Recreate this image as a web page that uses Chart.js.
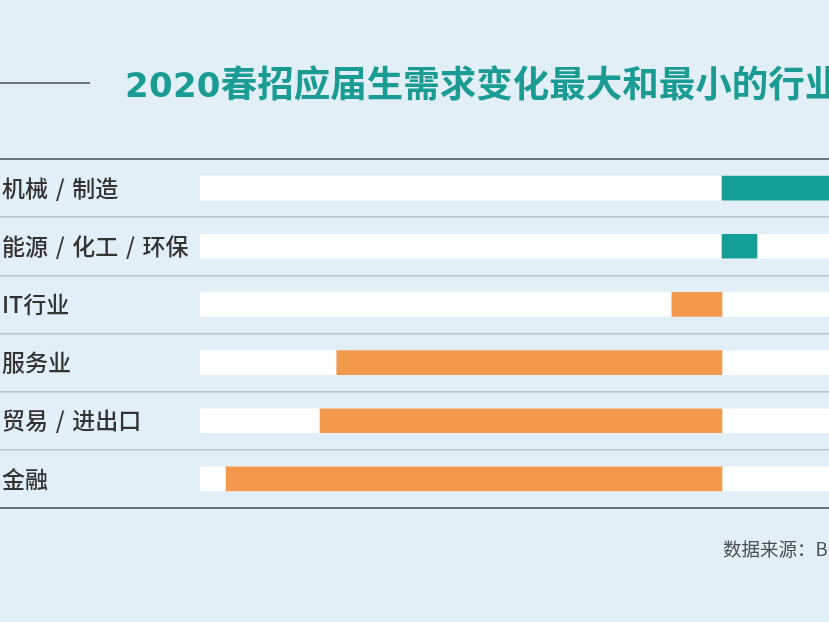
<!DOCTYPE html>
<html>
<head>
<meta charset="utf-8">
<script src="https://cdn.jsdelivr.net/npm/chart.js@4/dist/chart.umd.min.js"></script>
<style>
    html, body {
        margin: 0;
        padding: 0;
        width: 829px;
        height: 622px;
        overflow: hidden;
        background: #e3eff7;
        font-family: "Noto Sans CJK SC", "Noto Sans", sans-serif;
    }
    #wrap {
        position: relative;
        width: 829px;
        height: 622px;
        overflow: hidden;
    }
    #chart {
        position: absolute;
        left: 0;
        top: 0;
    }
    .title-line {
        position: absolute;
        left: 0;
        top: 82px;
        width: 90px;
        height: 2px;
        background: #6d757b;
    }
    .title {
        position: absolute;
        left: 125px;
        top: 57px;
        font-size: 36.5px;
        font-weight: 700;
        color: #1a9c95;
        white-space: nowrap;
        line-height: 50px;
    }
    .title .year {
        font-family: "DejaVu Sans", sans-serif;
        font-size: 34px;
        font-weight: 700;
        letter-spacing: 0.3px;
    }
    .source {
        position: absolute;
        left: 723px;
        top: 535px;
        font-size: 18.5px;
        color: #4a4f53;
        white-space: nowrap;
        line-height: 26px;
    }
</style>
</head>
<body>
<div id="wrap">
    <canvas id="chart" width="1244" height="622"></canvas>
    <div class="title-line"></div>
    <div class="title"><span class="year">2020</span>春招应届生需求变化最大和最小的行业</div>
    <div class="source">数据来源：BOSS直聘研究院</div>
</div>
<script>
// industries, top to bottom
const categories = ["机械 / 制造", "能源 / 化工 / 环保", "IT行业", "服务业", "贸易 / 进出口", "金融"];
// change in demand (scale -100..100)
const changeValues = [40, 6.7, -9.6, -73.8, -77.0, -95.0];
// white background track for each row
const trackRange = [-100, 100];

const TEAL = "#139f98";
const ORANGE = "#f2994e";

// the slashes in the labels sit in wide gaps
function padSlashes(label) {
    return label.replace(/ \/ /g, "\u2004/\u2004");
}

// top and bottom rules are darker than the row separators
// (the last offset grid line gets the scale context, so no index)
function isEdgeLine(ctx) {
    return ctx.index === undefined || ctx.index === 0;
}

function buildDatasets() {
    return [
        {
            label: "变化",
            data: changeValues.map((v) => [0, v]),
            backgroundColor: changeValues.map((v) => (v >= 0 ? TEAL : ORANGE)),
            borderWidth: 0,
            borderSkipped: false,
            barThickness: 24,
            grouped: false,
            order: 0,
        },
        {
            label: "track",
            data: categories.map(() => trackRange),
            backgroundColor: "#ffffff",
            borderWidth: 0,
            barThickness: 24,
            grouped: false,
            order: 1,
        },
    ];
}

new Chart(document.getElementById("chart"), {
    type: "bar",
    data: {
        labels: categories.map(padSlashes),
        datasets: buildDatasets(),
    },
    options: {
        indexAxis: "y",
        responsive: false,
        animation: false,
        layout: {
            padding: { top: 159, bottom: 114, left: 2, right: 0 },
        },
        plugins: {
            legend: { display: false },
            tooltip: { enabled: false },
        },
        scales: {
            x: {
                display: false,
                min: trackRange[0],
                max: trackRange[1],
            },
            y: {
                afterFit: (scale) => {
                    scale.width = 198;
                },
                border: { display: false },
                grid: {
                    offset: true,
                    drawTicks: true,
                    tickLength: 200,
                    color: (ctx) => (isEdgeLine(ctx) ? "#6b747a" : "#b9c6cf"),
                    lineWidth: (ctx) => (isEdgeLine(ctx) ? 2 : 1.5),
                },
                ticks: {
                    crossAlign: "far",
                    padding: 0,
                    color: "#333333",
                    font: { family: "Noto Sans CJK SC", size: 23, weight: 500 },
                },
            },
        },
    },
});
</script>
</body>
</html>
